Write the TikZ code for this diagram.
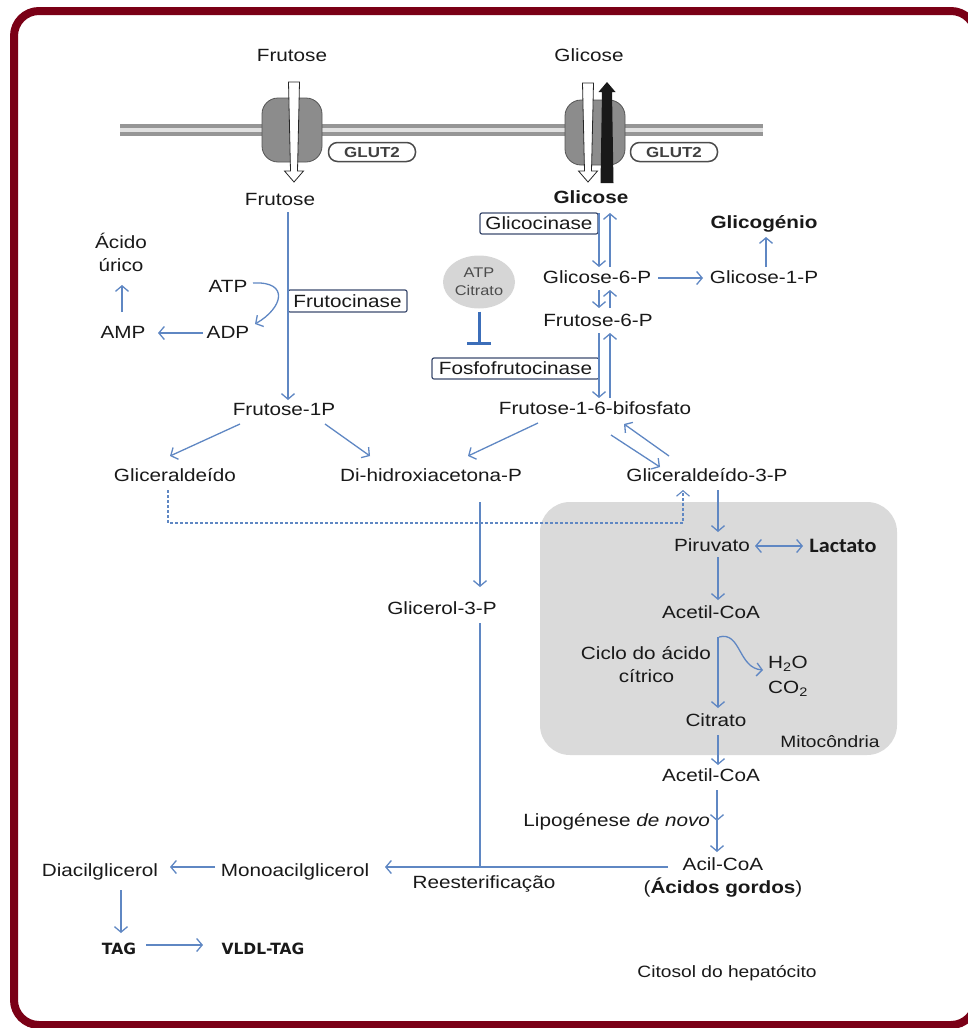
\documentclass[tikz,border=0pt]{standalone}
\usepackage{fontspec}
\setmainfont{Liberation Sans}[FakeStretch=1.17]
\newfontfamily\lacfont{Carlito}[FakeStretch=1.08]
\newfontfamily\tagfont{DejaVu Sans}
\usetikzlibrary{arrows.meta,decorations.markings,shapes.geometric}
\definecolor{arrowblue}{RGB}{95,135,195}
\definecolor{boxline}{RGB}{60,75,110}
\definecolor{inhib}{RGB}{60,110,185}
\definecolor{mitofill}{RGB}{218,218,218}
\definecolor{atpfill}{RGB}{214,214,214}
\definecolor{borderred}{RGB}{122,0,22}
\definecolor{txt}{RGB}{25,25,25}
\definecolor{memgray}{RGB}{150,150,150}
\definecolor{memlight}{RGB}{225,225,225}
\definecolor{tgray}{RGB}{140,140,140}
\definecolor{tdark}{RGB}{85,85,85}
\begin{document}
\begin{tikzpicture}[x=1pt,y=-1pt,
  lbl/.style={inner sep=0pt, outer sep=0pt, text height=12.7pt, text depth=0pt,
    font=\fontsize{17.7}{21}\selectfont, text=txt},
  blbl/.style={lbl, font=\fontsize{17.7}{21}\selectfont\bfseries},
  smalllbl/.style={lbl, text height=11.7pt, font=\fontsize{16.4}{19}\selectfont},
  enz/.style={lbl, draw=boxline, line width=1.2pt, rounded corners=2pt, inner sep=0pt},
  pill/.style={draw=black!70, line width=1.5pt, fill=white, rounded corners=9pt,
    minimum width=87pt, minimum height=19pt, inner sep=0pt, text height=10.4pt, text depth=0pt,
    font=\bfseries\fontsize{14.5}{16}\selectfont, text=black!75},
  arr/.style={draw=arrowblue, line width=1.3pt, -{Straight Barb[length=5.5pt,width=13pt]}},
  plainline/.style={draw=arrowblue, line width=1.3pt},
  tagf/.style={lbl, text height=11.5pt, font=\tagfont\bfseries\fontsize{15.5}{18}\selectfont}
]
\useasboundingbox (0,0) rectangle (968,1028);
% outer frame
\draw[draw=borderred, line width=8pt, rounded corners=25pt] (14,11) rectangle (976,1025);
% mitochondrion
\fill[mitofill, rounded corners=30pt] (540,502) rectangle (897,755);
% membrane
\fill[memgray] (120,124) rectangle (763,136);
\fill[memlight] (120,128) rectangle (763,131.7);
% transporters
\draw[draw=tdark, fill=tgray, line width=0.8pt, rounded corners=16pt] (262,98) rectangle (322,162);
\draw[draw=tdark, fill=tgray, line width=0.8pt, rounded corners=16pt] (565,100) rectangle (625,165);
% transport arrows
\draw[fill=white, draw=black!85, line width=0.8pt] (288.5,82) -- (299.5,82) -- (297.5,171) -- (303.5,171) -- (294,182) -- (284.5,171) -- (290.5,171) -- cycle;
\draw[fill=white, draw=black!85, line width=0.8pt] (582.5,83) -- (593.5,83) -- (591.5,171) -- (597.5,171) -- (588,182) -- (578.5,171) -- (584.5,171) -- cycle;
\fill[black!90] (600.5,183) -- (613.5,183) -- (612,92) -- (615.5,92) -- (607,82) -- (598.5,92) -- (602,92) -- cycle;
\node[pill] (glut1) at (372,152) {GLUT2};
\node[pill] (glut2) at (674,152) {GLUT2};

% labels
\node[lbl] (fruTop) at (292,55) {Frutose};
\node[lbl] (glcTop) at (589,55) {Glicose};
\node[lbl] (fru) at (280,199) {Frutose};
\node[blbl] (glc) at (591,197) {Glicose};
\node[enz, minimum width=118pt, minimum height=21pt] (glk) at (539,223.5) {Glicocinase};
\node[blbl] (gly) at (764,222) {Glicogénio};
\node[lbl] (g6p) at (597,277) {Glicose-6-P};
\node[lbl] (g1p) at (764,277) {Glicose-1-P};
\node[ellipse, fill=atpfill, minimum width=72pt, minimum height=53pt, inner sep=0pt,
  align=center, font=\fontsize{14}{18}\selectfont, text=black!70] (atpc) at (479,282) {ATP\\Citrato};
\node[lbl] (f6p) at (598,320) {Frutose-6-P};
\node[enz, minimum width=167pt, minimum height=21pt] (pfk) at (515.5,368.5) {Fosfofrutocinase};
\node[lbl] (f16) at (595,408) {Frutose-1-6-bifosfato};
\node[lbl] (atp) at (228,286) {ATP};
\node[lbl] (adp) at (228,332) {ADP};
\node[lbl] (amp) at (123,332) {AMP};
\node[lbl] (ac1) at (121,242) {Ácido};
\node[lbl] (ac2) at (121,265) {úrico};
\node[enz, minimum width=119pt, minimum height=22pt] (fk) at (347.5,301) {Frutocinase};
\node[lbl] (f1p) at (284,409) {Frutose-1P};
\node[lbl] (glya) at (175,475) {Gliceraldeído};
\node[lbl] (dhap) at (431,475) {Di-hidroxiacetona-P};
\node[lbl] (g3p) at (707,475) {Gliceraldeído-3-P};
\node[lbl] (g3pol) at (442,608) {Glicerol-3-P};
\node[lbl] (pyr) at (712,545) {Piruvato};
\node[lbl, font=\lacfont\bfseries\fontsize{20.5}{24}\selectfont] (lac) at (843,546) {Lactato};
\node[lbl] (acoa1) at (711,612) {Acetil-CoA};
\node[lbl] (cac1) at (646,653) {Ciclo do ácido};
\node[lbl] (cac2) at (646.5,676) {cítrico};
\node[lbl] (h2o) at (788,662) {H\textsubscript{2}O};
\node[lbl] (co2) at (788,687) {CO\textsubscript{2}};
\node[lbl] (cit) at (716,720) {Citrato};
\node[smalllbl] (mitoL) at (830,742) {Mitocôndria};
\node[lbl] (acoa2) at (711,775) {Acetil-CoA};
\node[lbl, anchor=east] (lipo) at (710,820) {Lipogénese \textit{de novo}};
\node[lbl] (acil) at (723,864) {Acil-CoA};
\node[lbl] (fa) at (723,887) {(\textbf{Ácidos gordos})};
\node[lbl] (rees) at (484,882) {Reesterificação};
\node[lbl] (mag) at (295,870) {Monoacilglicerol};
\node[lbl] (dag) at (100,870) {Diacilglicerol};
\node[tagf] (tag) at (119,949) {TAG};
\node[tagf] (vldl) at (263,949) {VLDL-TAG};
\node[smalllbl] (cito) at (727,972) {Citosol do hepatócito};

% fructose branch
\draw[arr] ([shift={(8,13)}]fru.center) -- ([shift={(4,-9)}]f1p.center);
\draw[arr] ([shift={(25,-3)}]atp.center) .. controls +(37,-2) and +(28,-16) .. ([shift={(27,-8)}]adp.center);
\draw[arr] ([shift={(-25,1)}]adp.center) -- ([shift={(35,1)}]amp.center);
\draw[arr] ([shift={(-1,-20)}]amp.center) -- ([shift={(1,20)}]ac2.center);
\draw[arr] ([shift={(-44,15)}]f1p.center) -- ([shift={(-5,-19)}]glya.center);
\draw[arr] ([shift={(41,15)}]f1p.center) -- ([shift={(-61,-19)}]dhap.center);
% glucose branch
\draw[arr] ([shift={(8,16)}]glc.center) -- ([shift={(2,-10)}]g6p.center);
\draw[arr] ([shift={(13,-10)}]g6p.center) -- ([shift={(19,16)}]glc.center);
\draw[arr] ([shift={(61,1)}]g6p.center) -- ([shift={(-61,1)}]g1p.center);
\draw[arr] ([shift={(2,-10)}]g1p.center) -- ([shift={(2,15)}]gly.center);
\draw[arr] ([shift={(2,13)}]g6p.center) -- ([shift={(1,-12)}]f6p.center);
\draw[arr] ([shift={(12,-12)}]f6p.center) -- ([shift={(13,13)}]g6p.center);
\draw[arr] ([shift={(1,13)}]f6p.center) -- ([shift={(4,-10)}]f16.center);
\draw[arr] ([shift={(15,-10)}]f16.center) -- ([shift={(12,13)}]f6p.center);
\draw[arr] ([shift={(-57,15)}]f16.center) -- ([shift={(37,-19)}]dhap.center);
\draw[arr] ([shift={(16,27)}]f16.center) -- ([shift={(-47,-8)}]g3p.center);
\draw[arr] ([shift={(-38,-19)}]g3p.center) -- ([shift={(29,16)}]f16.center);
% inhibition
\draw[draw=inhib, line width=3pt, -{Bar[width=24pt]}] ([shift={(0,3)}]atpc.south) -- ([shift={(-36.5,-23.5)}]pfk.center);
% dashed glyceraldehyde link
\draw[arr, line width=1.1pt, dash pattern=on 3pt off 2pt] ([shift={(-7,15)}]glya.center) -- ++(0,33) -| ([shift={(-24,15)}]g3p.center);
% glycerol
\draw[arr] ([shift={(49,27)}]dhap.center) -- ([shift={(38,-21)}]g3pol.center);
\draw[plainline] ([shift={(38,15)}]g3pol.center) -- ([shift={(38,259)}]g3pol.center);
% mitochondrion
\draw[arr] ([shift={(11,15)}]g3p.center) -- ([shift={(6,-13)}]pyr.center);
\draw[arr, {Straight Barb[length=5.5pt,width=13pt]}-{Straight Barb[length=5.5pt,width=13pt]}] ([shift={(43,1)}]pyr.center) -- ([shift={(-40,0)}]lac.center);
\draw[arr] ([shift={(6,12)}]pyr.center) -- ([shift={(7,-12)}]acoa1.center);
\draw[arr] ([shift={(7,25)}]acoa1.center) -- ([shift={(2,-12)}]cit.center);
\draw[arr] ([shift={(8,25)}]acoa1.center) .. controls +(22,-6) and +(-25,-2) .. ([shift={(-25,8)}]h2o.center);
\draw[arr] ([shift={(2,15)}]cit.center) -- ([shift={(7,-10)}]acoa2.center);
% lipogenesis
\draw[arr, postaction={decorate}, decoration={markings, mark=at position 0.5 with {\arrow{Straight Barb[length=5.5pt,width=13pt]}}}] ([shift={(6,15)}]acoa2.center) -- ([shift={(-6,-12)}]acil.center);
% re-esterification
\draw[arr] ([shift={(-55,3)}]acil.center) -- ([shift={(90,-3)}]mag.center);
\draw[arr] ([shift={(-80,-3)}]mag.center) -- ([shift={(70,-3)}]dag.center);
\draw[arr] ([shift={(21,20)}]dag.center) -- ([shift={(2,-16)}]tag.center);
\draw[arr] ([shift={(27,-4)}]tag.center) -- ([shift={(-60,-4)}]vldl.center);
\end{tikzpicture}
\end{document}
